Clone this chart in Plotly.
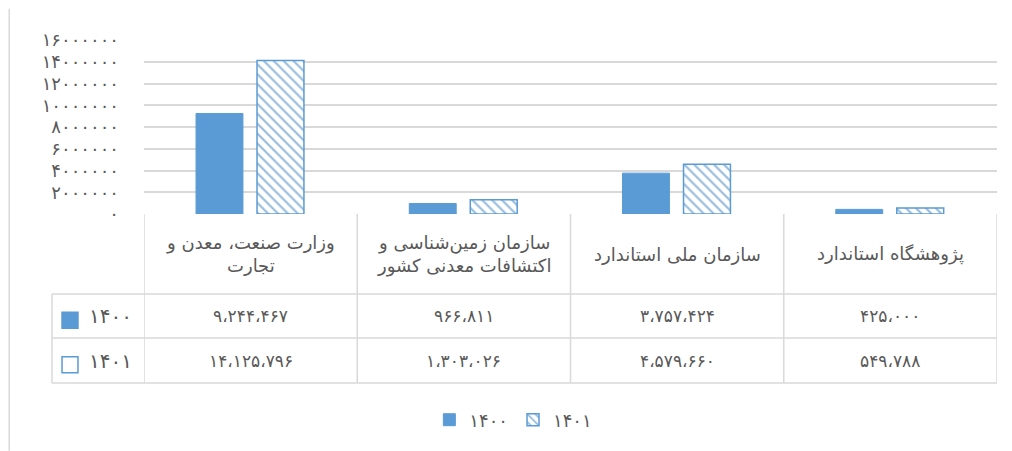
import plotly.graph_objects as go

categories = [
    "وزارت صنعت، معدن و<br>تجارت",
    "سازمان زمین‌شناسی و<br>اکتشافات معدنی کشور",
    "سازمان ملی استاندارد",
    "پژوهشگاه استاندارد",
]
series_names = ["1400", "1401"]
values_1400 = [9244467, 966811, 3757424, 425000]
values_1401 = [14125796, 1303026, 4579660, 549788]
y_ticks = [0, 2000000, 4000000, 6000000, 8000000, 10000000, 12000000, 14000000, 16000000]

BLUE = "#5B9BD5"
GREY_TXT = "#595959"
GRID = "#D9D9D9"
FONT = "DejaVu Sans"

fa_digits = str.maketrans("0123456789", "۰۱۲۳۴۵۶۷۸۹")

def fa(n, sep=False):
    s = f"{n:,}".replace(",", "،") if sep else str(n)
    return s.translate(fa_digits)

xs = list(range(len(categories)))

fig = go.Figure()
fig.add_trace(go.Bar(
    x=xs, y=values_1400, name=fa(series_names[0]),
    width=0.22, offset=-0.256,
    marker=dict(color=BLUE, line=dict(color=BLUE, width=1)),
))
fig.add_trace(go.Bar(
    x=xs, y=values_1401, name=fa(series_names[1]),
    width=0.22, offset=0.03,
    marker=dict(color="white", line=dict(color=BLUE, width=1.5),
                pattern=dict(shape="\\", fgcolor="#2E75B6", bgcolor="white",
                             size=7, solidity=0.3)),
))

# data table under the plot (paper coords, page has an 8px body margin)
row_y = [0.0, -0.46, -0.713, -0.971]
left_x = -0.1079
line_st = dict(color=GRID, width=1.5)
shapes = []
for y in row_y[1:]:
    shapes.append(dict(type="line", xref="paper", yref="paper", x0=left_x, x1=1,
                       y0=y, y1=y, line=line_st))
for bx in [-0.5, 0.5, 1.5, 2.5, 3.5]:
    shapes.append(dict(type="line", xref="x", yref="paper", x0=bx, x1=bx,
                       y0=0, y1=row_y[-1], line=line_st))
shapes.append(dict(type="line", xref="paper", yref="paper", x0=left_x, x1=left_x,
                   y0=row_y[1], y1=row_y[-1], line=line_st))
# outer chart border on the left
shapes.append(dict(type="line", xref="paper", yref="paper", x0=-0.158, x1=-0.158,
                   y0=-1.36, y1=1.18, line=line_st))

annotations = []
for i, c in enumerate(categories):
    annotations.append(dict(x=xs[i], y=(row_y[0] + row_y[1]) / 2, xref="x", yref="paper",
                            yanchor="middle", text=c, showarrow=False,
                            font=dict(size=18, color=GREY_TXT, family=FONT)))
for r, vals in enumerate([values_1400, values_1401]):
    yc = (row_y[r + 1] + row_y[r + 2]) / 2
    for i, v in enumerate(vals):
        annotations.append(dict(x=xs[i], y=yc, xref="x", yref="paper", yanchor="middle",
                                text=fa(v, True), showarrow=False,
                                font=dict(size=17, color=GREY_TXT, family=FONT)))
    annotations.append(dict(x=-0.0117, y=yc, xref="paper", yref="paper", xanchor="right",
                            yanchor="middle", text=fa(series_names[r]), showarrow=False,
                            font=dict(size=20, color=GREY_TXT, family=FONT)))
    # legend keys inside table
    shapes.append(dict(type="rect", xref="paper", yref="paper", x0=-0.0961, x1=-0.0774,
                       y0=yc - 0.07, y1=yc + 0.022,
                       fillcolor=BLUE if r == 0 else "white",
                       line=dict(color=BLUE, width=1.5)))

fig.update_layout(
    width=1004, height=443,
    margin=dict(l=136, r=15, t=32, b=237),
    paper_bgcolor="white", plot_bgcolor="white",
    barmode="group",
    font=dict(family=FONT, color=GREY_TXT),
    xaxis=dict(range=[-0.5, 3.5], showticklabels=False, showgrid=False, zeroline=False,
               showline=False, ticks=""),
    yaxis=dict(range=[0, 16000000], tickvals=y_ticks, ticktext=[fa(t) for t in y_ticks],
               showgrid=True, gridcolor=GRID, gridwidth=1.5, zeroline=False,
               showline=False, tickfont=dict(size=18, color=GREY_TXT, family=FONT),
               ticklabelstandoff=24),
    legend=dict(orientation="h", x=0.433, xanchor="center", y=-1.184, yanchor="middle",
                font=dict(size=18, color=GREY_TXT, family=FONT)),
    shapes=shapes, annotations=annotations,
)

fig.write_html("out.html")
